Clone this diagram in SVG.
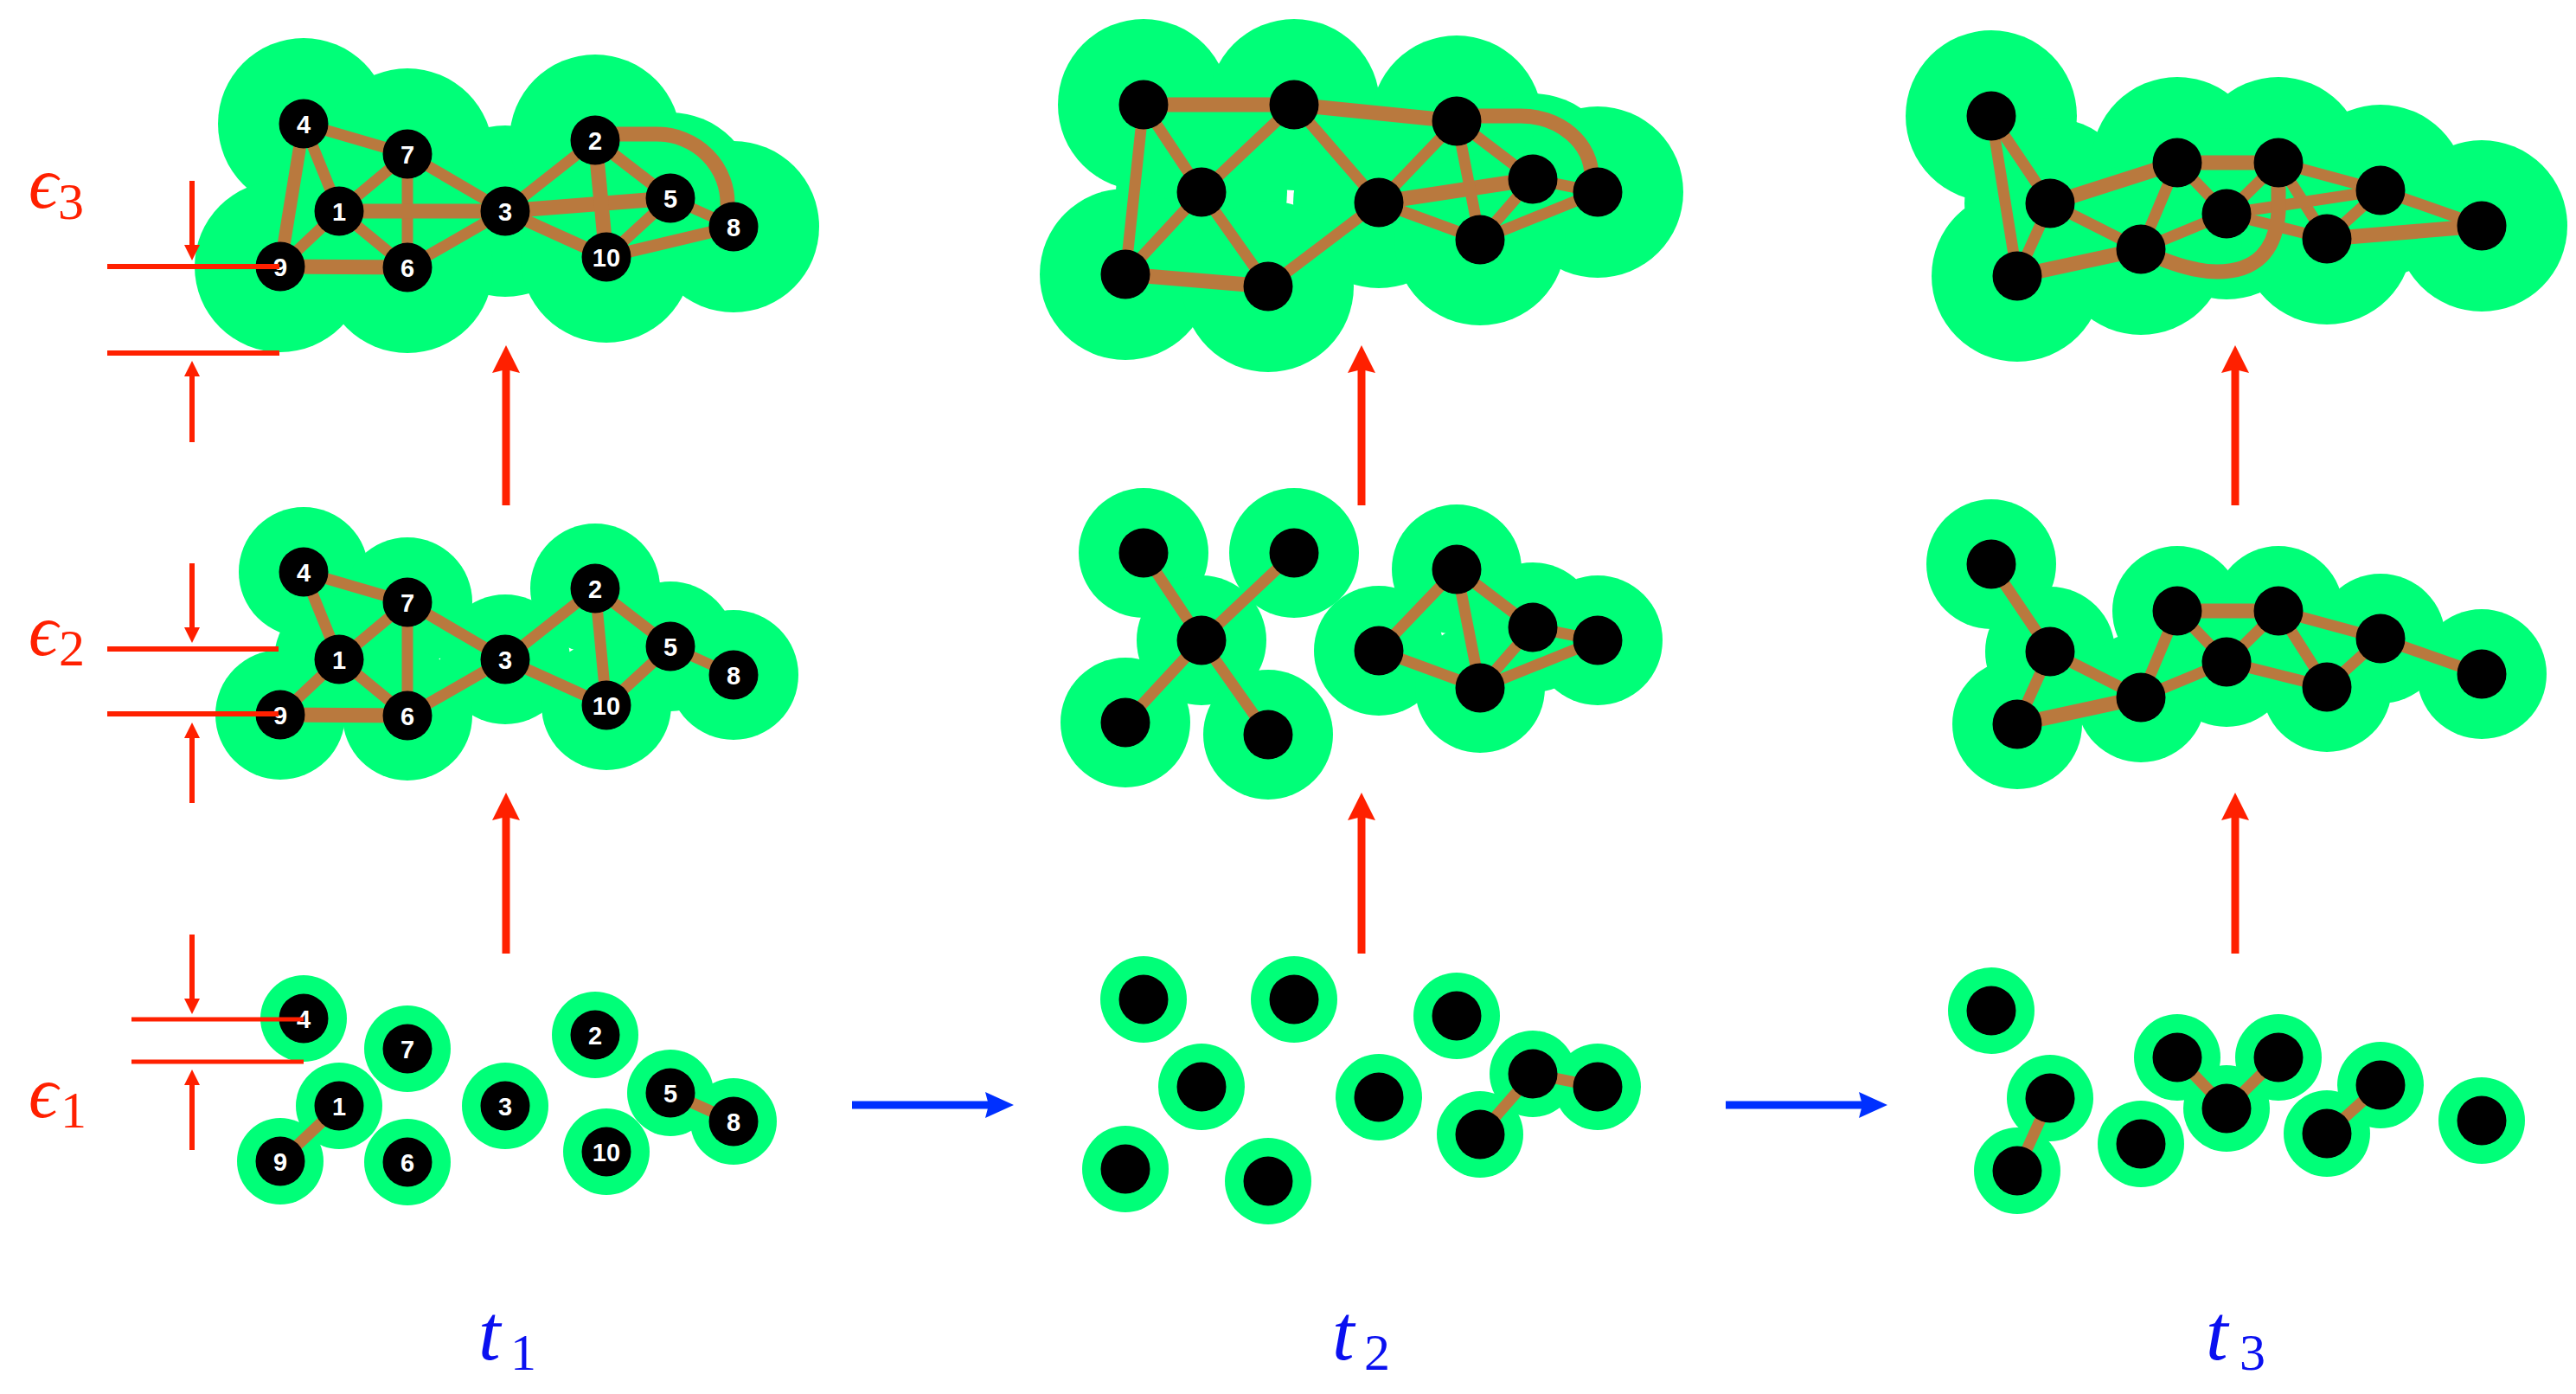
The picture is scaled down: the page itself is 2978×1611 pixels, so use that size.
<svg xmlns="http://www.w3.org/2000/svg" xmlns:xlink="http://www.w3.org/1999/xlink" width="2978" height="1611" viewBox="0 0 2978 1611">
<defs>
<style>
.h3 circle{fill:#00ff78}
.e{stroke:#b9793e;stroke-width:13;fill:none;stroke-linecap:butt}
.e .t{stroke-width:17}
.n{fill:#000}
.lb{font-family:'Liberation Sans',Arial,sans-serif;font-weight:bold;font-size:29px;fill:#fff;text-anchor:middle}
.rl{stroke:#ff2000;fill:none}
.rf{fill:#ff2000}
.bl{stroke:#0030ff;stroke-width:9;fill:none}
.bf{fill:#0030ff}
.eps{font-family:'Liberation Serif','DejaVu Serif',serif;font-style:italic;font-size:84px;fill:#ff2000}
.sub{font-style:normal;font-size:60px}
.tl{font-family:'Liberation Serif','DejaVu Serif',serif;font-style:italic;font-size:92px;fill:#0a10f0}
</style>
<path id="rh" d="M0,0 L16,32 L0,28 L-16,32 Z"/>
<path id="bh" d="M0,0 L-33,-15 L-29,0 L-33,15 Z"/>
<path id="dd" d="M0,0 L-9,-18 L9,-18 Z"/>
<path id="du" d="M0,0 L-9,18 L9,18 Z"/>
</defs>
<rect width="2978" height="1611" fill="#fff"/>

<!-- ===== t1 epsilon3 ===== -->
<g id="t1-eps3">
<g class="h3" id="t1-eps3-halos">
<circle cx="351" cy="143" r="99"/><circle cx="471" cy="178" r="99"/><circle cx="392" cy="244" r="99"/><circle cx="584" cy="244" r="99"/><circle cx="688" cy="162" r="99"/><circle cx="775" cy="229" r="99"/><circle cx="848" cy="262" r="99"/><circle cx="701" cy="297" r="99"/><circle cx="324" cy="308" r="99"/><circle cx="471" cy="309" r="99"/>
</g>
<g class="e" id="t1-eps3-edges">
<line x1="351" y1="143" x2="471" y2="178"/><line x1="351" y1="143" x2="392" y2="244"/><line x1="351" y1="143" x2="324" y2="308" style="stroke-width:15"/>
<line x1="471" y1="178" x2="392" y2="244"/><line x1="471" y1="178" x2="471" y2="309"/><line x1="471" y1="178" x2="584" y2="244"/>
<line class="t" x1="392" y1="244" x2="584" y2="244"/><line x1="392" y1="244" x2="324" y2="308"/><line x1="392" y1="244" x2="471" y2="309"/>
<line class="t" x1="324" y1="308" x2="471" y2="309"/><line x1="471" y1="309" x2="584" y2="244"/>
<line x1="584" y1="244" x2="688" y2="162"/><line class="t" x1="584" y1="244" x2="775" y2="229"/><line x1="584" y1="244" x2="701" y2="297" style="stroke-width:14"/>
<line class="t" x1="688" y1="162" x2="701" y2="297"/><line x1="688" y1="162" x2="775" y2="229" style="stroke-width:14"/>
<line x1="775" y1="229" x2="848" y2="262" style="stroke-width:12"/><line x1="775" y1="229" x2="701" y2="297"/><line x1="701" y1="297" x2="848" y2="262" style="stroke-width:14"/>
<path class="t" d="M688 155 L759 155 A82 80 0 0 1 841 238"/>
</g>
<g id="t1-eps3-n4"><circle class="n" cx="351" cy="143" r="28.5"/><text class="lb" x="351" y="153.5">4</text></g>
<g id="t1-eps3-n7"><circle class="n" cx="471" cy="178" r="28.5"/><text class="lb" x="471" y="188.5">7</text></g>
<g id="t1-eps3-n1"><circle class="n" cx="392" cy="244" r="28.5"/><text class="lb" x="392" y="254.5">1</text></g>
<g id="t1-eps3-n3"><circle class="n" cx="584" cy="244" r="28.5"/><text class="lb" x="584" y="254.5">3</text></g>
<g id="t1-eps3-n2"><circle class="n" cx="688" cy="162" r="28.5"/><text class="lb" x="688" y="172.5">2</text></g>
<g id="t1-eps3-n5"><circle class="n" cx="775" cy="229" r="28.5"/><text class="lb" x="775" y="239.5">5</text></g>
<g id="t1-eps3-n8"><circle class="n" cx="848" cy="262" r="28.5"/><text class="lb" x="848" y="272.5">8</text></g>
<g id="t1-eps3-n10"><circle class="n" cx="701" cy="297" r="28.5"/><text class="lb" x="701" y="307.5">10</text></g>
<g id="t1-eps3-n9"><circle class="n" cx="324" cy="308" r="28.5"/><text class="lb" x="324" y="318.5">9</text></g>
<g id="t1-eps3-n6"><circle class="n" cx="471" cy="309" r="28.5"/><text class="lb" x="471" y="319.5">6</text></g>
</g>

<!-- ===== t1 epsilon2 ===== -->
<g id="t1-eps2" transform="translate(0,518)">
<g class="h3" id="t1-eps2-halos">
<circle cx="351" cy="143" r="75"/><circle cx="471" cy="178" r="75"/><circle cx="392" cy="244" r="75"/><circle cx="584" cy="244" r="75"/><circle cx="688" cy="162" r="75"/><circle cx="775" cy="229" r="75"/><circle cx="848" cy="262" r="75"/><circle cx="701" cy="297" r="75"/><circle cx="324" cy="308" r="75"/><circle cx="471" cy="309" r="75"/>
</g>
<g class="e" id="t1-eps2-edges">
<line x1="351" y1="143" x2="471" y2="178"/><line x1="351" y1="143" x2="392" y2="244"/>
<line x1="471" y1="178" x2="392" y2="244"/><line x1="471" y1="178" x2="471" y2="309"/><line x1="471" y1="178" x2="584" y2="244"/>
<line x1="392" y1="244" x2="324" y2="308"/><line x1="392" y1="244" x2="471" y2="309"/>
<line class="t" x1="324" y1="308" x2="471" y2="309"/><line x1="471" y1="309" x2="584" y2="244"/>
<line x1="584" y1="244" x2="688" y2="162"/><line x1="584" y1="244" x2="701" y2="297"/>
<line x1="688" y1="162" x2="701" y2="297"/><line x1="688" y1="162" x2="775" y2="229"/>
<line x1="775" y1="229" x2="848" y2="262" style="stroke-width:12"/><line x1="775" y1="229" x2="701" y2="297"/>
</g>
<g id="t1-eps2-n4"><circle class="n" cx="351" cy="143" r="28.5"/><text class="lb" x="351" y="153.5">4</text></g>
<g id="t1-eps2-n7"><circle class="n" cx="471" cy="178" r="28.5"/><text class="lb" x="471" y="188.5">7</text></g>
<g id="t1-eps2-n1"><circle class="n" cx="392" cy="244" r="28.5"/><text class="lb" x="392" y="254.5">1</text></g>
<g id="t1-eps2-n3"><circle class="n" cx="584" cy="244" r="28.5"/><text class="lb" x="584" y="254.5">3</text></g>
<g id="t1-eps2-n2"><circle class="n" cx="688" cy="162" r="28.5"/><text class="lb" x="688" y="172.5">2</text></g>
<g id="t1-eps2-n5"><circle class="n" cx="775" cy="229" r="28.5"/><text class="lb" x="775" y="239.5">5</text></g>
<g id="t1-eps2-n8"><circle class="n" cx="848" cy="262" r="28.5"/><text class="lb" x="848" y="272.5">8</text></g>
<g id="t1-eps2-n10"><circle class="n" cx="701" cy="297" r="28.5"/><text class="lb" x="701" y="307.5">10</text></g>
<g id="t1-eps2-n9"><circle class="n" cx="324" cy="308" r="28.5"/><text class="lb" x="324" y="318.5">9</text></g>
<g id="t1-eps2-n6"><circle class="n" cx="471" cy="309" r="28.5"/><text class="lb" x="471" y="319.5">6</text></g>
</g>

<!-- ===== t1 epsilon1 ===== -->
<g id="t1-eps1" transform="translate(0,1034)">
<g class="h3" id="t1-eps1-halos">
<circle cx="351" cy="143" r="50"/><circle cx="471" cy="178" r="50"/><circle cx="392" cy="244" r="50"/><circle cx="584" cy="244" r="50"/><circle cx="688" cy="162" r="50"/><circle cx="775" cy="229" r="50"/><circle cx="848" cy="262" r="50"/><circle cx="701" cy="297" r="50"/><circle cx="324" cy="308" r="50"/><circle cx="471" cy="309" r="50"/>
</g>
<g class="e" id="t1-eps1-edges">
<line x1="392" y1="244" x2="324" y2="308"/><line x1="775" y1="229" x2="848" y2="262"/>
</g>
<g id="t1-eps1-n4"><circle class="n" cx="351" cy="143" r="28.5"/><text class="lb" x="351" y="153.5">4</text></g>
<g id="t1-eps1-n7"><circle class="n" cx="471" cy="178" r="28.5"/><text class="lb" x="471" y="188.5">7</text></g>
<g id="t1-eps1-n1"><circle class="n" cx="392" cy="244" r="28.5"/><text class="lb" x="392" y="254.5">1</text></g>
<g id="t1-eps1-n3"><circle class="n" cx="584" cy="244" r="28.5"/><text class="lb" x="584" y="254.5">3</text></g>
<g id="t1-eps1-n2"><circle class="n" cx="688" cy="162" r="28.5"/><text class="lb" x="688" y="172.5">2</text></g>
<g id="t1-eps1-n5"><circle class="n" cx="775" cy="229" r="28.5"/><text class="lb" x="775" y="239.5">5</text></g>
<g id="t1-eps1-n8"><circle class="n" cx="848" cy="262" r="28.5"/><text class="lb" x="848" y="272.5">8</text></g>
<g id="t1-eps1-n10"><circle class="n" cx="701" cy="297" r="28.5"/><text class="lb" x="701" y="307.5">10</text></g>
<g id="t1-eps1-n9"><circle class="n" cx="324" cy="308" r="28.5"/><text class="lb" x="324" y="318.5">9</text></g>
<g id="t1-eps1-n6"><circle class="n" cx="471" cy="309" r="28.5"/><text class="lb" x="471" y="319.5">6</text></g>
</g>

<!-- ===== t2 epsilon3 ===== -->
<g id="t2-eps3">
<g class="h3" id="t2-eps3-halos">
<circle cx="1322" cy="121" r="99"/><circle cx="1496" cy="121" r="99"/><circle cx="1684" cy="140" r="99"/><circle cx="1389" cy="222" r="99"/><circle cx="1594" cy="234" r="99"/><circle cx="1772" cy="207" r="99"/><circle cx="1847" cy="222" r="99"/><circle cx="1711" cy="277" r="99"/><circle cx="1301" cy="317" r="99"/><circle cx="1466" cy="331" r="99"/>
</g>
<g class="e" id="t2-eps3-edges">
<line class="t" x1="1322" y1="121" x2="1496" y2="121"/><line x1="1322" y1="121" x2="1389" y2="222"/><line x1="1322" y1="121" x2="1301" y2="317"/>
<line x1="1496" y1="121" x2="1389" y2="222"/><line x1="1496" y1="121" x2="1594" y2="234"/><line class="t" x1="1496" y1="121" x2="1684" y2="140"/>
<line x1="1389" y1="222" x2="1301" y2="317"/><line x1="1389" y1="222" x2="1466" y2="331"/>
<line class="t" x1="1301" y1="317" x2="1466" y2="331"/><line x1="1466" y1="331" x2="1594" y2="234"/>
<line x1="1594" y1="234" x2="1684" y2="140"/><line class="t" x1="1594" y1="234" x2="1772" y2="207"/><line x1="1594" y1="234" x2="1711" y2="277"/>
<line x1="1684" y1="140" x2="1772" y2="207"/><line x1="1684" y1="140" x2="1711" y2="277"/>
<line x1="1772" y1="207" x2="1847" y2="222"/><line x1="1772" y1="207" x2="1711" y2="277"/><line x1="1711" y1="277" x2="1847" y2="222"/>
<path class="t" d="M1684 134 L1758 134 A82 70 0 0 1 1840 204"/>
</g>
<rect x="1489" y="220" width="3" height="13" fill="#fff"/>
<g id="t2-eps3-nA"><circle class="n" cx="1322" cy="121" r="28.5"/></g>
<g id="t2-eps3-nB"><circle class="n" cx="1496" cy="121" r="28.5"/></g>
<g id="t2-eps3-nC"><circle class="n" cx="1684" cy="140" r="28.5"/></g>
<g id="t2-eps3-nD"><circle class="n" cx="1389" cy="222" r="28.5"/></g>
<g id="t2-eps3-nE"><circle class="n" cx="1594" cy="234" r="28.5"/></g>
<g id="t2-eps3-nF"><circle class="n" cx="1772" cy="207" r="28.5"/></g>
<g id="t2-eps3-nG"><circle class="n" cx="1847" cy="222" r="28.5"/></g>
<g id="t2-eps3-nH"><circle class="n" cx="1711" cy="277" r="28.5"/></g>
<g id="t2-eps3-nI"><circle class="n" cx="1301" cy="317" r="28.5"/></g>
<g id="t2-eps3-nJ"><circle class="n" cx="1466" cy="331" r="28.5"/></g>
</g>

<!-- ===== t2 epsilon2 ===== -->
<g id="t2-eps2" transform="translate(0,518)">
<g class="h3" id="t2-eps2-halos">
<circle cx="1322" cy="121" r="75"/><circle cx="1496" cy="121" r="75"/><circle cx="1684" cy="140" r="75"/><circle cx="1389" cy="222" r="75"/><circle cx="1594" cy="234" r="75"/><circle cx="1772" cy="207" r="75"/><circle cx="1847" cy="222" r="75"/><circle cx="1711" cy="277" r="75"/><circle cx="1301" cy="317" r="75"/><circle cx="1466" cy="331" r="75"/>
</g>
<g class="e" id="t2-eps2-edges">
<line x1="1322" y1="121" x2="1389" y2="222"/><line x1="1496" y1="121" x2="1389" y2="222"/><line x1="1389" y1="222" x2="1301" y2="317"/><line x1="1389" y1="222" x2="1466" y2="331"/>
<line x1="1684" y1="140" x2="1594" y2="234"/><line x1="1684" y1="140" x2="1711" y2="277"/><line x1="1684" y1="140" x2="1772" y2="207"/>
<line x1="1594" y1="234" x2="1711" y2="277"/><line x1="1772" y1="207" x2="1711" y2="277"/><line x1="1772" y1="207" x2="1847" y2="222"/><line x1="1711" y1="277" x2="1847" y2="222"/>
</g>
<g id="t2-eps2-nA"><circle class="n" cx="1322" cy="121" r="28.5"/></g>
<g id="t2-eps2-nB"><circle class="n" cx="1496" cy="121" r="28.5"/></g>
<g id="t2-eps2-nC"><circle class="n" cx="1684" cy="140" r="28.5"/></g>
<g id="t2-eps2-nD"><circle class="n" cx="1389" cy="222" r="28.5"/></g>
<g id="t2-eps2-nE"><circle class="n" cx="1594" cy="234" r="28.5"/></g>
<g id="t2-eps2-nF"><circle class="n" cx="1772" cy="207" r="28.5"/></g>
<g id="t2-eps2-nG"><circle class="n" cx="1847" cy="222" r="28.5"/></g>
<g id="t2-eps2-nH"><circle class="n" cx="1711" cy="277" r="28.5"/></g>
<g id="t2-eps2-nI"><circle class="n" cx="1301" cy="317" r="28.5"/></g>
<g id="t2-eps2-nJ"><circle class="n" cx="1466" cy="331" r="28.5"/></g>
</g>

<!-- ===== t2 epsilon1 ===== -->
<g id="t2-eps1" transform="translate(0,1034)">
<g class="h3" id="t2-eps1-halos">
<circle cx="1322" cy="121" r="50"/><circle cx="1496" cy="121" r="50"/><circle cx="1684" cy="140" r="50"/><circle cx="1389" cy="222" r="50"/><circle cx="1594" cy="234" r="50"/><circle cx="1772" cy="207" r="50"/><circle cx="1847" cy="222" r="50"/><circle cx="1711" cy="277" r="50"/><circle cx="1301" cy="317" r="50"/><circle cx="1466" cy="331" r="50"/>
</g>
<g class="e" id="t2-eps1-edges">
<line x1="1772" y1="207" x2="1847" y2="222"/><line x1="1772" y1="207" x2="1711" y2="277"/>
</g>
<g id="t2-eps1-nA"><circle class="n" cx="1322" cy="121" r="28.5"/></g>
<g id="t2-eps1-nB"><circle class="n" cx="1496" cy="121" r="28.5"/></g>
<g id="t2-eps1-nC"><circle class="n" cx="1684" cy="140" r="28.5"/></g>
<g id="t2-eps1-nD"><circle class="n" cx="1389" cy="222" r="28.5"/></g>
<g id="t2-eps1-nE"><circle class="n" cx="1594" cy="234" r="28.5"/></g>
<g id="t2-eps1-nF"><circle class="n" cx="1772" cy="207" r="28.5"/></g>
<g id="t2-eps1-nG"><circle class="n" cx="1847" cy="222" r="28.5"/></g>
<g id="t2-eps1-nH"><circle class="n" cx="1711" cy="277" r="28.5"/></g>
<g id="t2-eps1-nI"><circle class="n" cx="1301" cy="317" r="28.5"/></g>
<g id="t2-eps1-nJ"><circle class="n" cx="1466" cy="331" r="28.5"/></g>
</g>

<!-- ===== t3 epsilon3 ===== -->
<g id="t3-eps3">
<g class="h3" id="t3-eps3-halos">
<circle cx="2302" cy="134" r="99"/><circle cx="2370" cy="235" r="99"/><circle cx="2517" cy="188" r="99"/><circle cx="2634" cy="188" r="99"/><circle cx="2574" cy="247" r="99"/><circle cx="2752" cy="220" r="99"/><circle cx="2869" cy="261" r="99"/><circle cx="2690" cy="276" r="99"/><circle cx="2475" cy="288" r="99"/><circle cx="2332" cy="319" r="99"/>
</g>
<g class="e" id="t3-eps3-edges">
<line x1="2302" y1="134" x2="2370" y2="235"/><line x1="2302" y1="134" x2="2332" y2="319"/><line x1="2370" y1="235" x2="2332" y2="319"/>
<line class="t" x1="2370" y1="235" x2="2517" y2="188"/><line x1="2370" y1="235" x2="2475" y2="288"/>
<line class="t" x1="2517" y1="188" x2="2634" y2="188"/><line x1="2517" y1="188" x2="2574" y2="247"/><line x1="2517" y1="188" x2="2475" y2="288"/>
<line x1="2634" y1="188" x2="2574" y2="247"/><line x1="2634" y1="188" x2="2752" y2="220"/><line x1="2634" y1="188" x2="2690" y2="276"/>
<line x1="2574" y1="247" x2="2475" y2="288"/><line x1="2574" y1="247" x2="2752" y2="220"/><line x1="2574" y1="247" x2="2690" y2="276"/>
<line x1="2752" y1="220" x2="2690" y2="276"/><line x1="2752" y1="220" x2="2869" y2="261"/><line class="t" x1="2690" y1="276" x2="2869" y2="261"/>
<line class="t" x1="2475" y1="288" x2="2332" y2="319"/>
<path class="t" d="M2634 188 L2634 245 C2631 290 2608 314 2563 314 C2535 314 2505 303 2475 289"/>
</g>
<g id="t3-eps3-nP"><circle class="n" cx="2302" cy="134" r="28.5"/></g>
<g id="t3-eps3-nQ"><circle class="n" cx="2370" cy="235" r="28.5"/></g>
<g id="t3-eps3-nR"><circle class="n" cx="2517" cy="188" r="28.5"/></g>
<g id="t3-eps3-nS"><circle class="n" cx="2634" cy="188" r="28.5"/></g>
<g id="t3-eps3-nT"><circle class="n" cx="2574" cy="247" r="28.5"/></g>
<g id="t3-eps3-nU"><circle class="n" cx="2752" cy="220" r="28.5"/></g>
<g id="t3-eps3-nV"><circle class="n" cx="2869" cy="261" r="28.5"/></g>
<g id="t3-eps3-nW"><circle class="n" cx="2690" cy="276" r="28.5"/></g>
<g id="t3-eps3-nX"><circle class="n" cx="2475" cy="288" r="28.5"/></g>
<g id="t3-eps3-nY"><circle class="n" cx="2332" cy="319" r="28.5"/></g>
</g>

<!-- ===== t3 epsilon2 ===== -->
<g id="t3-eps2" transform="translate(0,518)">
<g class="h3" id="t3-eps2-halos">
<circle cx="2302" cy="134" r="75"/><circle cx="2370" cy="235" r="75"/><circle cx="2517" cy="188" r="75"/><circle cx="2634" cy="188" r="75"/><circle cx="2574" cy="247" r="75"/><circle cx="2752" cy="220" r="75"/><circle cx="2869" cy="261" r="75"/><circle cx="2690" cy="276" r="75"/><circle cx="2475" cy="288" r="75"/><circle cx="2332" cy="319" r="75"/>
</g>
<g class="e" id="t3-eps2-edges">
<line x1="2302" y1="134" x2="2370" y2="235"/><line x1="2370" y1="235" x2="2332" y2="319"/><line x1="2370" y1="235" x2="2475" y2="288"/>
<line class="t" x1="2475" y1="288" x2="2332" y2="319"/><line x1="2475" y1="288" x2="2517" y2="188"/><line x1="2475" y1="288" x2="2574" y2="247"/>
<line class="t" x1="2517" y1="188" x2="2634" y2="188"/><line x1="2517" y1="188" x2="2574" y2="247"/><line x1="2634" y1="188" x2="2574" y2="247"/>
<line x1="2634" y1="188" x2="2690" y2="276"/><line x1="2574" y1="247" x2="2690" y2="276"/><line x1="2634" y1="188" x2="2752" y2="220"/>
<line x1="2690" y1="276" x2="2752" y2="220"/><line x1="2752" y1="220" x2="2869" y2="261"/>
</g>
<g id="t3-eps2-nP"><circle class="n" cx="2302" cy="134" r="28.5"/></g>
<g id="t3-eps2-nQ"><circle class="n" cx="2370" cy="235" r="28.5"/></g>
<g id="t3-eps2-nR"><circle class="n" cx="2517" cy="188" r="28.5"/></g>
<g id="t3-eps2-nS"><circle class="n" cx="2634" cy="188" r="28.5"/></g>
<g id="t3-eps2-nT"><circle class="n" cx="2574" cy="247" r="28.5"/></g>
<g id="t3-eps2-nU"><circle class="n" cx="2752" cy="220" r="28.5"/></g>
<g id="t3-eps2-nV"><circle class="n" cx="2869" cy="261" r="28.5"/></g>
<g id="t3-eps2-nW"><circle class="n" cx="2690" cy="276" r="28.5"/></g>
<g id="t3-eps2-nX"><circle class="n" cx="2475" cy="288" r="28.5"/></g>
<g id="t3-eps2-nY"><circle class="n" cx="2332" cy="319" r="28.5"/></g>
</g>

<!-- ===== t3 epsilon1 ===== -->
<g id="t3-eps1" transform="translate(0,1034)">
<g class="h3" id="t3-eps1-halos">
<circle cx="2302" cy="134" r="50"/><circle cx="2370" cy="235" r="50"/><circle cx="2517" cy="188" r="50"/><circle cx="2634" cy="188" r="50"/><circle cx="2574" cy="247" r="50"/><circle cx="2752" cy="220" r="50"/><circle cx="2869" cy="261" r="50"/><circle cx="2690" cy="276" r="50"/><circle cx="2475" cy="288" r="50"/><circle cx="2332" cy="319" r="50"/>
</g>
<g class="e" id="t3-eps1-edges">
<line x1="2370" y1="235" x2="2332" y2="319"/><line x1="2517" y1="188" x2="2574" y2="247"/><line x1="2634" y1="188" x2="2574" y2="247"/><line x1="2752" y1="220" x2="2690" y2="276"/>
</g>
<g id="t3-eps1-nP"><circle class="n" cx="2302" cy="134" r="28.5"/></g>
<g id="t3-eps1-nQ"><circle class="n" cx="2370" cy="235" r="28.5"/></g>
<g id="t3-eps1-nR"><circle class="n" cx="2517" cy="188" r="28.5"/></g>
<g id="t3-eps1-nS"><circle class="n" cx="2634" cy="188" r="28.5"/></g>
<g id="t3-eps1-nT"><circle class="n" cx="2574" cy="247" r="28.5"/></g>
<g id="t3-eps1-nU"><circle class="n" cx="2752" cy="220" r="28.5"/></g>
<g id="t3-eps1-nV"><circle class="n" cx="2869" cy="261" r="28.5"/></g>
<g id="t3-eps1-nW"><circle class="n" cx="2690" cy="276" r="28.5"/></g>
<g id="t3-eps1-nX"><circle class="n" cx="2475" cy="288" r="28.5"/></g>
<g id="t3-eps1-nY"><circle class="n" cx="2332" cy="319" r="28.5"/></g>
</g>

<!-- ===== connectors: arrows ===== -->
<g id="arrows">
<g id="red-arrows">
<line class="rl" style="stroke-width:9" x1="585" y1="1102" x2="585" y2="942"/><use xlink:href="#rh" href="#rh" x="585" y="916" class="rf"/>
<line class="rl" style="stroke-width:9" x1="585" y1="584" x2="585" y2="425"/><use xlink:href="#rh" href="#rh" x="585" y="399" class="rf"/>
<line class="rl" style="stroke-width:9" x1="1574" y1="1102" x2="1574" y2="942"/><use xlink:href="#rh" href="#rh" x="1574" y="916" class="rf"/>
<line class="rl" style="stroke-width:9" x1="1574" y1="584" x2="1574" y2="425"/><use xlink:href="#rh" href="#rh" x="1574" y="399" class="rf"/>
<line class="rl" style="stroke-width:9" x1="2584" y1="1102" x2="2584" y2="942"/><use xlink:href="#rh" href="#rh" x="2584" y="916" class="rf"/>
<line class="rl" style="stroke-width:9" x1="2584" y1="584" x2="2584" y2="425"/><use xlink:href="#rh" href="#rh" x="2584" y="399" class="rf"/>
</g>
<g id="blue-arrows">
<line class="bl" x1="985" y1="1277" x2="1145" y2="1277"/><use xlink:href="#bh" href="#bh" x="1172" y="1277" class="bf"/>
<line class="bl" x1="1995" y1="1277" x2="2155" y2="1277"/><use xlink:href="#bh" href="#bh" x="2182" y="1277" class="bf"/>
</g>
<g id="eps-dimensions">
<line class="rl" style="stroke-width:6" x1="124" y1="308" x2="323" y2="308"/>
<line class="rl" style="stroke-width:6" x1="124" y1="408" x2="323" y2="408"/>
<line class="rl" style="stroke-width:6" x1="222" y1="209" x2="222" y2="285"/><use xlink:href="#dd" href="#dd" x="222" y="301" class="rf"/>
<line class="rl" style="stroke-width:6" x1="222" y1="433" x2="222" y2="511"/><use xlink:href="#du" href="#du" x="222" y="417" class="rf"/>
<line class="rl" style="stroke-width:6" x1="124" y1="750" x2="322" y2="750"/>
<line class="rl" style="stroke-width:6" x1="124" y1="825" x2="322" y2="825"/>
<line class="rl" style="stroke-width:6" x1="222" y1="651" x2="222" y2="727"/><use xlink:href="#dd" href="#dd" x="222" y="743" class="rf"/>
<line class="rl" style="stroke-width:6" x1="222" y1="851" x2="222" y2="928"/><use xlink:href="#du" href="#du" x="222" y="835" class="rf"/>
<line class="rl" style="stroke-width:5" x1="152" y1="1178" x2="351" y2="1178"/>
<line class="rl" style="stroke-width:5" x1="152" y1="1227" x2="351" y2="1227"/>
<line class="rl" style="stroke-width:6" x1="222" y1="1080" x2="222" y2="1156"/><use xlink:href="#dd" href="#dd" x="222" y="1172" class="rf"/>
<line class="rl" style="stroke-width:6" x1="222" y1="1252" x2="222" y2="1329"/><use xlink:href="#du" href="#du" x="222" y="1236" class="rf"/>
</g>
</g>

<!-- ===== labels ===== -->
<g id="labels">
<text class="eps" x="33" y="240">ϵ<tspan class="sub" x="67" y="253">3</tspan></text>
<text class="eps" x="33" y="757">ϵ<tspan class="sub" x="68" y="769">2</tspan></text>
<text class="eps" x="33" y="1291">ϵ<tspan class="sub" x="70" y="1303">1</tspan></text>
<text class="tl" x="553" y="1571">t<tspan class="sub" x="590" y="1583">1</tspan></text>
<text class="tl" x="1540" y="1571">t<tspan class="sub" x="1577" y="1583">2</tspan></text>
<text class="tl" x="2550" y="1571">t<tspan class="sub" x="2589" y="1583">3</tspan></text>
</g>
</svg>
